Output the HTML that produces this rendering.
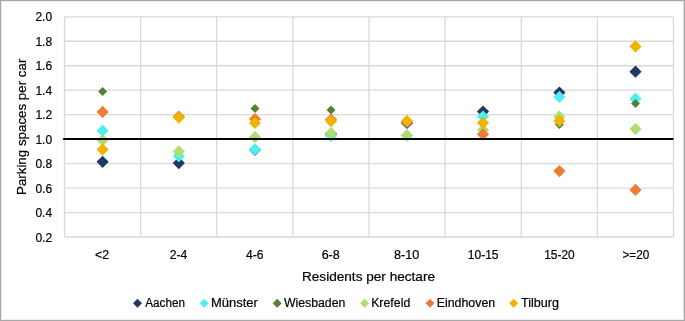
<!DOCTYPE html>
<html><head><meta charset="utf-8"><style>
html,body{margin:0;padding:0;background:#fff;}
body{width:685px;height:321px;overflow:hidden;position:relative;}
svg{position:absolute;left:0;top:0;display:block;will-change:transform;}
.t{font-family:"Liberation Sans",sans-serif;font-size:12px;fill:#000;stroke:#000;stroke-width:0.2px;}
.ti{font-family:"Liberation Sans",sans-serif;font-size:13.4px;fill:#000;stroke:#000;stroke-width:0.2px;}
.bl{position:absolute;left:0;top:0;width:1px;height:321px;background:#a6a6a6;}
.bl2{position:absolute;left:1px;top:1px;width:1px;height:319px;background:#ececec;}
.bt{position:absolute;left:0;top:0;width:685px;height:1px;background:#a6a6a6;}
.bt2{position:absolute;left:1px;top:1px;width:683px;height:1px;background:#ececec;}
.br{position:absolute;left:684px;top:0;width:1px;height:321px;background:#a8a8a8;}
.br2{position:absolute;left:683px;top:1px;width:1px;height:319px;background:#dcdcdc;}
.bb{position:absolute;left:0;top:320px;width:685px;height:1px;background:#a8a8a8;}
.bb2{position:absolute;left:1px;top:319px;width:683px;height:1px;background:#ececec;}
</style></head><body>
<svg width="685" height="321" viewBox="0 0 685 321">
<line x1="64.50" y1="16.80" x2="673.50" y2="16.80" stroke="#D9D9D9" stroke-width="1.3"/>
<line x1="64.50" y1="41.27" x2="673.50" y2="41.27" stroke="#D9D9D9" stroke-width="1.3"/>
<line x1="64.50" y1="65.73" x2="673.50" y2="65.73" stroke="#D9D9D9" stroke-width="1.3"/>
<line x1="64.50" y1="90.20" x2="673.50" y2="90.20" stroke="#D9D9D9" stroke-width="1.3"/>
<line x1="64.50" y1="114.67" x2="673.50" y2="114.67" stroke="#D9D9D9" stroke-width="1.3"/>
<line x1="64.50" y1="139.13" x2="673.50" y2="139.13" stroke="#D9D9D9" stroke-width="1.3"/>
<line x1="64.50" y1="163.60" x2="673.50" y2="163.60" stroke="#D9D9D9" stroke-width="1.3"/>
<line x1="64.50" y1="188.07" x2="673.50" y2="188.07" stroke="#D9D9D9" stroke-width="1.3"/>
<line x1="64.50" y1="212.53" x2="673.50" y2="212.53" stroke="#D9D9D9" stroke-width="1.3"/>
<line x1="64.50" y1="237.00" x2="673.50" y2="237.00" stroke="#D9D9D9" stroke-width="1.3"/>
<line x1="64.50" y1="16.80" x2="64.50" y2="237.00" stroke="#D9D9D9" stroke-width="1.3"/>
<line x1="140.62" y1="16.80" x2="140.62" y2="237.00" stroke="#D9D9D9" stroke-width="1.3"/>
<line x1="216.75" y1="16.80" x2="216.75" y2="237.00" stroke="#D9D9D9" stroke-width="1.3"/>
<line x1="292.88" y1="16.80" x2="292.88" y2="237.00" stroke="#D9D9D9" stroke-width="1.3"/>
<line x1="369.00" y1="16.80" x2="369.00" y2="237.00" stroke="#D9D9D9" stroke-width="1.3"/>
<line x1="445.12" y1="16.80" x2="445.12" y2="237.00" stroke="#D9D9D9" stroke-width="1.3"/>
<line x1="521.25" y1="16.80" x2="521.25" y2="237.00" stroke="#D9D9D9" stroke-width="1.3"/>
<line x1="597.38" y1="16.80" x2="597.38" y2="237.00" stroke="#D9D9D9" stroke-width="1.3"/>
<line x1="673.50" y1="16.80" x2="673.50" y2="237.00" stroke="#D9D9D9" stroke-width="1.3"/>
<path d="M102.60 155.70L108.70 161.80L102.60 167.90L96.50 161.80Z" fill="#203864"/>
<path d="M178.80 157.00L184.90 163.10L178.80 169.20L172.70 163.10Z" fill="#203864"/>
<path d="M255.00 143.70L261.10 149.80L255.00 155.90L248.90 149.80Z" fill="#203864"/>
<path d="M331.00 127.90L337.10 134.00L331.00 140.10L324.90 134.00Z" fill="#203864"/>
<path d="M407.00 116.90L413.10 123.00L407.00 129.10L400.90 123.00Z" fill="#203864"/>
<path d="M483.00 105.40L489.10 111.50L483.00 117.60L476.90 111.50Z" fill="#203864"/>
<path d="M559.40 86.50L565.50 92.60L559.40 98.70L553.30 92.60Z" fill="#203864"/>
<path d="M635.50 65.55L641.60 71.65L635.50 77.75L629.40 71.65Z" fill="#203864"/>
<path d="M102.60 124.60L108.70 130.70L102.60 136.80L96.50 130.70Z" fill="#4DF0F0"/>
<path d="M178.80 150.10L184.90 156.20L178.80 162.30L172.70 156.20Z" fill="#4DF0F0"/>
<path d="M255.00 143.30L261.10 149.40L255.00 155.50L248.90 149.40Z" fill="#4DF0F0"/>
<path d="M331.00 129.90L337.10 136.00L331.00 142.10L324.90 136.00Z" fill="#4DF0F0"/>
<path d="M407.00 129.50L413.10 135.60L407.00 141.70L400.90 135.60Z" fill="#4DF0F0"/>
<path d="M483.00 110.40L489.10 116.50L483.00 122.60L476.90 116.50Z" fill="#4DF0F0"/>
<path d="M559.40 90.80L565.50 96.90L559.40 103.00L553.30 96.90Z" fill="#4DF0F0"/>
<path d="M635.50 92.60L641.60 98.70L635.50 104.80L629.40 98.70Z" fill="#4DF0F0"/>
<path d="M102.60 87.00L107.10 91.50L102.60 96.00L98.10 91.50Z" fill="#548235"/>
<path d="M255.00 104.10L259.50 108.60L255.00 113.10L250.50 108.60Z" fill="#548235"/>
<path d="M331.00 105.40L335.50 109.90L331.00 114.40L326.50 109.90Z" fill="#548235"/>
<path d="M559.40 120.10L563.90 124.60L559.40 129.10L554.90 124.60Z" fill="#548235"/>
<path d="M635.50 99.10L640.00 103.60L635.50 108.10L631.00 103.60Z" fill="#548235"/>
<path d="M102.60 134.20L108.70 140.30L102.60 146.40L96.50 140.30Z" fill="#B0DD70"/>
<path d="M178.80 145.50L184.90 151.60L178.80 157.70L172.70 151.60Z" fill="#B0DD70"/>
<path d="M255.00 131.00L261.10 137.10L255.00 143.20L248.90 137.10Z" fill="#B0DD70"/>
<path d="M331.00 127.00L337.10 133.10L331.00 139.20L324.90 133.10Z" fill="#B0DD70"/>
<path d="M407.00 129.20L413.10 135.30L407.00 141.40L400.90 135.30Z" fill="#B0DD70"/>
<path d="M483.00 123.90L489.10 130.00L483.00 136.10L476.90 130.00Z" fill="#B0DD70"/>
<path d="M559.40 110.60L565.50 116.70L559.40 122.80L553.30 116.70Z" fill="#B0DD70"/>
<path d="M635.50 122.90L641.60 129.00L635.50 135.10L629.40 129.00Z" fill="#B0DD70"/>
<path d="M102.60 105.80L108.70 111.90L102.60 118.00L96.50 111.90Z" fill="#ED7D31"/>
<path d="M178.80 110.50L184.90 116.60L178.80 122.70L172.70 116.60Z" fill="#ED7D31"/>
<path d="M255.00 112.90L261.10 119.00L255.00 125.10L248.90 119.00Z" fill="#ED7D31"/>
<path d="M331.00 113.50L337.10 119.60L331.00 125.70L324.90 119.60Z" fill="#ED7D31"/>
<path d="M407.00 115.90L413.10 122.00L407.00 128.10L400.90 122.00Z" fill="#ED7D31"/>
<path d="M483.00 128.20L489.10 134.30L483.00 140.40L476.90 134.30Z" fill="#ED7D31"/>
<path d="M559.40 165.00L565.50 171.10L559.40 177.20L553.30 171.10Z" fill="#ED7D31"/>
<path d="M635.50 183.80L641.60 189.90L635.50 196.00L629.40 189.90Z" fill="#ED7D31"/>
<path d="M102.60 143.50L108.70 149.60L102.60 155.70L96.50 149.60Z" fill="#F0B400"/>
<path d="M178.80 111.50L184.90 117.60L178.80 123.70L172.70 117.60Z" fill="#F0B400"/>
<path d="M255.00 116.90L261.10 123.00L255.00 129.10L248.90 123.00Z" fill="#F0B400"/>
<path d="M331.00 115.10L337.10 121.20L331.00 127.30L324.90 121.20Z" fill="#F0B400"/>
<path d="M407.00 114.80L413.10 120.90L407.00 127.00L400.90 120.90Z" fill="#F0B400"/>
<path d="M483.00 116.70L489.10 122.80L483.00 128.90L476.90 122.80Z" fill="#F0B400"/>
<path d="M559.40 114.90L565.50 121.00L559.40 127.10L553.30 121.00Z" fill="#F0B400"/>
<path d="M635.50 40.30L641.60 46.40L635.50 52.50L629.40 46.40Z" fill="#F0B400"/>
<line x1="63.8" y1="139" x2="672.7" y2="139" stroke="#000" stroke-width="2" stroke-linecap="round"/>
<text x="52.1" y="21.40" text-anchor="end" class="t">2.0</text>
<text x="52.1" y="45.87" text-anchor="end" class="t">1.8</text>
<text x="52.1" y="70.33" text-anchor="end" class="t">1.6</text>
<text x="52.1" y="94.80" text-anchor="end" class="t">1.4</text>
<text x="52.1" y="119.27" text-anchor="end" class="t">1.2</text>
<text x="52.1" y="143.73" text-anchor="end" class="t">1.0</text>
<text x="52.1" y="168.20" text-anchor="end" class="t">0.8</text>
<text x="52.1" y="192.67" text-anchor="end" class="t">0.6</text>
<text x="52.1" y="217.13" text-anchor="end" class="t">0.4</text>
<text x="52.1" y="241.60" text-anchor="end" class="t">0.2</text>
<text id="L_Aachen" x="145.27" y="306.8" class="t" textLength="39.74" lengthAdjust="spacingAndGlyphs">Aachen</text>
<text id="L_Münster" x="210.92" y="306.8" class="t" textLength="46.88" lengthAdjust="spacingAndGlyphs">Münster</text>
<text id="L_Wiesbaden" x="284.00" y="306.8" class="t" textLength="61.27" lengthAdjust="spacingAndGlyphs">Wiesbaden</text>
<text id="L_Krefeld" x="371.15" y="306.8" class="t" textLength="39.11" lengthAdjust="spacingAndGlyphs">Krefeld</text>
<text id="L_Eindhoven" x="436.65" y="306.8" class="t" textLength="58.62" lengthAdjust="spacingAndGlyphs">Eindhoven</text>
<text id="L_Tilburg" x="521.09" y="306.8" class="t" textLength="37.92" lengthAdjust="spacingAndGlyphs">Tilburg</text>
<text id="X_<2" x="95.06" y="258.6" class="t" textLength="14.19" lengthAdjust="spacingAndGlyphs">&lt;2</text>
<text id="X_2-4" x="169.75" y="258.6" class="t" textLength="17.64" lengthAdjust="spacingAndGlyphs">2-4</text>
<text id="X_4-6" x="246.00" y="258.6" class="t" textLength="17.60" lengthAdjust="spacingAndGlyphs">4-6</text>
<text id="X_6-8" x="321.65" y="258.6" class="t" textLength="18.05" lengthAdjust="spacingAndGlyphs">6-8</text>
<text id="X_8-10" x="394.09" y="258.6" class="t" textLength="25.28" lengthAdjust="spacingAndGlyphs">8-10</text>
<text id="X_10-15" x="467.78" y="258.6" class="t" textLength="30.77" lengthAdjust="spacingAndGlyphs">10-15</text>
<text id="X_15-20" x="544.26" y="258.6" class="t" textLength="30.36" lengthAdjust="spacingAndGlyphs">15-20</text>
<text id="X_>=20" x="622.48" y="258.6" class="t" textLength="26.83" lengthAdjust="spacingAndGlyphs">&gt;=20</text>
<text id="XT" x="301.98" y="281.1" class="ti" textLength="133.05" lengthAdjust="spacingAndGlyphs">Residents per hectare</text>
<text transform="translate(25.6 0) rotate(-90)" x="-195.00" y="0" class="ti" textLength="136.35" lengthAdjust="spacingAndGlyphs">Parking spaces per car</text>
<path d="M137.50 298.80L142.00 303.30L137.50 307.80L133.00 303.30Z" fill="#203864"/>
<path d="M204.20 298.80L208.70 303.30L204.20 307.80L199.70 303.30Z" fill="#4DF0F0"/>
<path d="M277.20 298.80L281.70 303.30L277.20 307.80L272.70 303.30Z" fill="#548235"/>
<path d="M364.60 298.80L369.10 303.30L364.60 307.80L360.10 303.30Z" fill="#B0DD70"/>
<path d="M430.00 298.80L434.50 303.30L430.00 307.80L425.50 303.30Z" fill="#ED7D31"/>
<path d="M513.70 298.80L518.20 303.30L513.70 307.80L509.20 303.30Z" fill="#F0B400"/>
</svg>
<div class="bl2"></div><div class="bt2"></div><div class="br2"></div><div class="bb2"></div><div class="bl"></div><div class="bt"></div><div class="br"></div><div class="bb"></div>
</body></html>
